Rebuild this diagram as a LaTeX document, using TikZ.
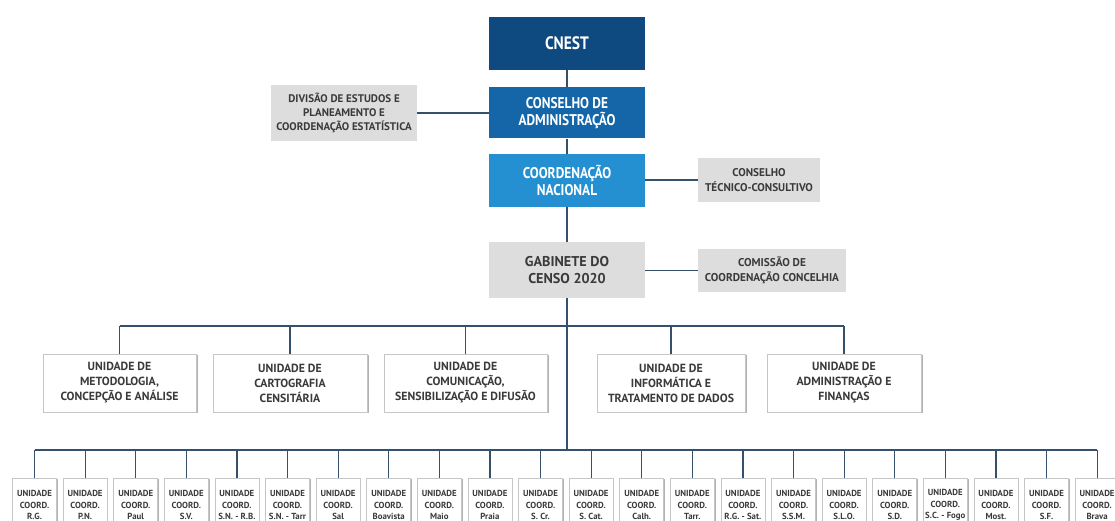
\documentclass[tikz,border=0pt]{standalone}
\usepackage{fontspec}
\setmainfont{PT Sans}
\newfontfamily\narrowsans{PT Sans}[FakeStretch=0.86]
\usetikzlibrary{shadows}
\definecolor{cnestblue}{HTML}{0E4A80}
\definecolor{admblue}{HTML}{1566A8}
\definecolor{coordblue}{HTML}{2490D2}
\definecolor{boxgray}{HTML}{DDDDDD}
\definecolor{txtgray}{HTML}{3A3A3A}
\definecolor{linecol}{HTML}{34506B}
\tikzset{
  bluebox/.style={rectangle, inner sep=0pt, text=white, align=center, font=\narrowsans\bfseries\fontsize{15.5}{16.8}\selectfont},
  graybox/.style={rectangle, inner sep=0pt, fill=boxgray, text=txtgray, align=center, font=\bfseries\fontsize{11}{13.8}\selectfont},
  unitbox/.style={rectangle, inner sep=0pt, fill=white, draw=gray!45, line width=0.8pt, text=txtgray, align=center,
     minimum height=58, font=\bfseries\fontsize{11.8}{15}\selectfont,
     drop shadow={shadow xshift=1.5pt, shadow yshift=-1.2pt, fill=black, opacity=0.3}},
  smallbox/.style={rectangle, inner sep=0pt, fill=white, draw=gray!45, line width=0.8pt, text=txtgray, align=center,
     minimum width=44, minimum height=54, font=\bfseries\fontsize{8.8}{11.3}\selectfont,
     drop shadow={shadow xshift=1.2pt, shadow yshift=-1pt, fill=black, opacity=0.3}},
  conn/.style={draw=linecol, line width=1.2pt}
}
\begin{document}
\begin{tikzpicture}[x=1pt, y=-1pt]
\useasboundingbox (0,0) rectangle (1115,521);
% top blue chain
\node[bluebox, fill=cnestblue, minimum width=156, minimum height=53, font=\narrowsans\bfseries\fontsize{18}{20}\selectfont] (cnest) at (567,43.5) {CNEST};
\node[bluebox, fill=admblue, minimum width=156, minimum height=51] (adm) at (567,113) {CONSELHO DE\\ADMINISTRAÇÃO};
\node[bluebox, fill=coordblue, minimum width=156, minimum height=53] (coord) at (567,180.5) {COORDENAÇÃO\\NACIONAL};
% side gray boxes
\node[graybox, minimum width=146, minimum height=56] (div) at (344,113) {DIVISÃO DE ESTUDOS E\\PLANEAMENTO E\\COORDENAÇÃO ESTATÍSTICA};
\node[graybox, minimum width=122, minimum height=44, font=\bfseries\fontsize{11.2}{15}\selectfont] (tec) at (759,180) {CONSELHO\\TÉCNICO-CONSULTIVO};
\node[graybox, minimum width=156, minimum height=56, font=\bfseries\fontsize{14.2}{17.7}\selectfont] (gab) at (567,270) {GABINETE DO\\CENSO 2020};
\node[graybox, minimum width=148, minimum height=43, font=\bfseries\fontsize{11.3}{15}\selectfont] (com) at (772,270.5) {COMISSÃO DE\\COORDENAÇÃO CONCELHIA};
% connectors top
\draw[conn] (cnest) -- (adm);
\draw[conn] (adm) -- (coord);
\draw[conn] (coord) -- (gab);
\draw[conn] (div) -- (adm);
\draw[conn] (coord.east |- tec) -- (tec);
\draw[conn] (gab.east |- com) -- (com);
% unit boxes
\node[unitbox, minimum width=153] (u1) at (119.5,383) {UNIDADE DE\\METODOLOGIA,\\CONCEPÇÃO E ANÁLISE};
\node[unitbox, minimum width=154] (u2) at (290,383) {UNIDADE DE\\CARTOGRAFIA\\CENSITÁRIA};
\node[unitbox, minimum width=163] (u3) at (465.5,383) {UNIDADE DE\\COMUNICAÇÃO,\\SENSIBILIZAÇÃO E DIFUSÃO};
\node[unitbox, minimum width=148] (u4) at (671,383) {UNIDADE DE\\INFORMÁTICA E\\TRATAMENTO DE DADOS};
\node[unitbox, minimum width=154] (u5) at (844,383) {UNIDADE DE\\ADMINISTRAÇÃO E\\FINANÇAS};
\coordinate (ubus) at (567,326);
\draw[conn] (u1.north |- ubus) -- (u5.north |- ubus);
\foreach \u in {u1,u2,u3,u4,u5} {\draw[conn] (\u.north |- ubus) -- (\u.north);}
% bottom bus
\coordinate (sbus) at (567,450);
\draw[conn] (gab.south) -- (gab.south |- sbus);
\foreach \i/\t in {0/R.G., 1/P.N., 2/Paul, 3/S.V., 4/S.N. - R.B., 5/S.N. - Tarr, 6/Sal, 7/Boavista, 8/Maio, 9/Praia, 10/S. Cr., 11/S. Cat., 12/Calh., 13/Tarr., 14/R.G. - Sat., 15/S.S.M., 16/S.L.O., 17/S.D., 18/S.C. - Fogo, 19/Most., 20/S.F., 21/Brava} {
  \node[smallbox] (s\i) at ({34.5+50.6*\i},505) {UNIDADE\\COORD.\\\t};
  \draw[conn] (s\i.north |- sbus) -- (s\i.north);
}
\draw[conn] (s0.north |- sbus) -- (s21.north |- sbus);
\end{tikzpicture}
\end{document}
